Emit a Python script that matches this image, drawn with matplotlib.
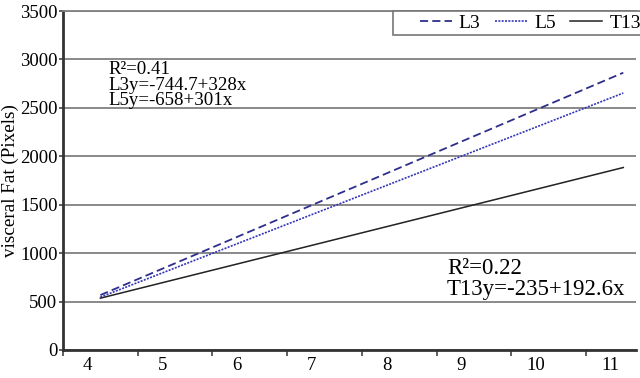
import numpy as np
import matplotlib
matplotlib.use("Agg")
import matplotlib.pyplot as plt
from matplotlib.patches import Rectangle
from matplotlib.ticker import FixedLocator, NullFormatter

# regression lines (start / end of each fit)
x_vals = [4, 11]
l3_vals = [567, 2863]
l5_vals = [546, 2653]
t13_vals = [535, 1884]

y_ticks = [0, 500, 1000, 1500, 2000, 2500, 3000, 3500]
x_labels = ["4", "5", "6", "7", "8", "9", "10", "11"]

plt.rcParams["font.family"] = ["Liberation Serif", "DejaVu Serif"]

W, H = 640, 378
fig = plt.figure(figsize=(6.4, 3.78), dpi=100)
ax = fig.add_axes([63 / W, 1 - 350 / H, (636 - 63) / W, (350 - 11) / H])

ax.plot(x_vals, l3_vals, color="#2e2e8c", linewidth=1.3, linestyle=(0, (4.5, 2.3)), label="L3")
ax.plot(x_vals, l5_vals, color="#3434b8", linewidth=1.2, linestyle=(0, (1.2, 0.8)), label="L5")
ax.plot(x_vals, t13_vals, color="#222222", linewidth=1.1, label="T13")

ax.set_xlim(3.5, 11.17)
ax.set_ylim(0, 3500)

# tick marks sit at the category edges, labels a bit right of them
ax.xaxis.set_major_locator(FixedLocator(np.arange(3.5, 11, 1.0)))
ax.xaxis.set_major_formatter(NullFormatter())
ax.xaxis.set_minor_locator(FixedLocator([int(s) - 0.17 for s in x_labels]))
ax.set_xticklabels(x_labels, minor=True)
ax.tick_params(axis="x", which="major", length=4, width=1.2, color="#444444", direction="out")
ax.tick_params(axis="x", which="minor", length=0, labelsize=13.5, pad=5)

ax.set_yticks(y_ticks)
ax.tick_params(axis="y", length=3, width=1.2, color="#444444", labelsize=13.5, pad=1)
ax.yaxis.grid(True, color="#808080", linewidth=1.3)
ax.set_axisbelow(True)

ax.spines["right"].set_visible(False)
ax.spines["top"].set_color("#808080")
ax.spines["top"].set_linewidth(1.3)
for s in ["left", "bottom"]:
    ax.spines[s].set_color("#333333")
    ax.spines[s].set_linewidth(2)

ax.set_ylabel("visceral Fat (Pixels)", fontsize=13.8, labelpad=1)

# equation notes, one line each (baselines in picture pixels)
top_notes = ["R²=0.41", "L3y=-744.7+328x", "L5y=-658+301x"]
for txt, yb in zip(top_notes, [74, 89.5, 105]):
    fig.text(108 / W, 1 - yb / H, txt, fontsize=13.6, va="baseline", ha="left")
bottom_notes = ["R²=0.22", "T13y=-235+192.6x"]
for txt, yb in zip(bottom_notes, [274, 295]):
    fig.text(447 / W, 1 - yb / H, txt, fontsize=16.5, va="baseline", ha="left")

# legend box runs off the right edge, as in the source
fig.patches.append(Rectangle((393 / W, 1 - 35 / H), 260 / W, 24 / H, transform=fig.transFigure,
                             facecolor="white", edgecolor="#777777", linewidth=1.2, zorder=5))
leg = fig.legend(loc="center left", bbox_to_anchor=(420 / W, 1 - 23 / H), ncol=3,
                 fontsize=14, frameon=False, handlelength=1.65, handletextpad=0.35,
                 columnspacing=0.75, borderpad=0, borderaxespad=0)
leg.set_zorder(6)

fig.savefig("out.png", dpi=100)
